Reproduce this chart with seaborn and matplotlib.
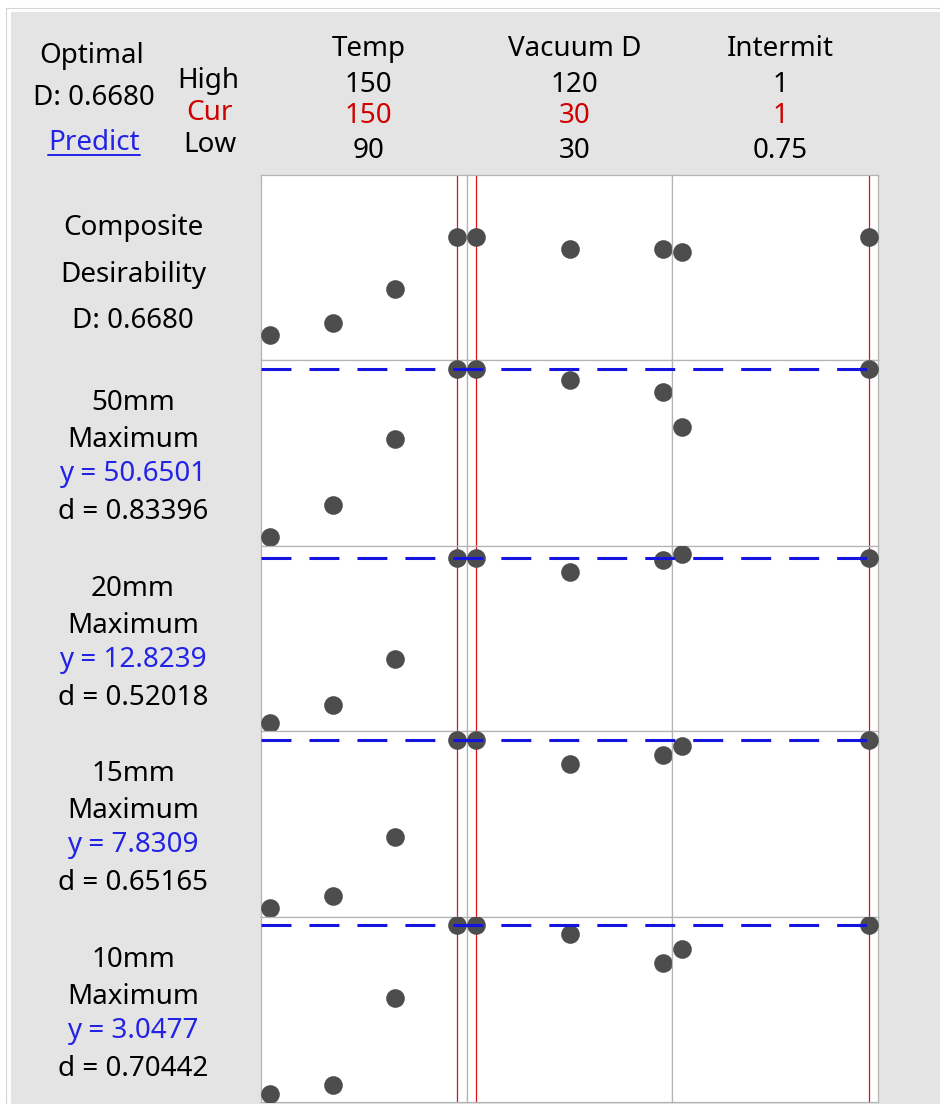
import matplotlib.pyplot as plt
import seaborn as sns
import pandas as pd
from matplotlib.lines import Line2D
from matplotlib.patches import Rectangle

# factor settings
factors = ['Temp', 'Vacuum D', 'Intermit']
high = ['150', '120', '1']
cur = ['150', '30', '1']
low = ['90', '30', '0.75']
cur_values = [150, 30, 1]

temp_levels = [90, 110, 130, 150]
vacuum_levels = [30, 75, 120]
intermit_levels = [0.75, 1]

# composite desirability at each level
comp_temp = [0.139, 0.202, 0.385, 0.668]
comp_vacuum = [0.668, 0.603, 0.603]
comp_intermit = [0.587, 0.668]

# predicted responses at each level
mm50_temp = [44.00, 45.26, 47.90, 50.6501]
mm50_vacuum = [50.6501, 50.20, 49.73]
mm50_intermit = [48.37, 50.6501]

mm20_temp = [9.50, 9.86, 10.79, 12.8239]
mm20_vacuum = [12.8239, 12.54, 12.77]
mm20_intermit = [12.89, 12.8239]

mm15_temp = [5.00, 5.20, 6.19, 7.8309]
mm15_vacuum = [7.8309, 7.42, 7.57]
mm15_intermit = [7.72, 7.8309]

mm10_temp = [1.80, 1.86, 2.51, 3.0477]
mm10_vacuum = [3.0477, 2.98, 2.77]
mm10_intermit = [2.87, 3.0477]

responses = ['50mm', '20mm', '15mm', '10mm']
goals = ['Maximum', 'Maximum', 'Maximum', 'Maximum']
y_pred = [50.6501, 12.8239, 7.8309, 3.0477]
d_vals = ['0.83396', '0.52018', '0.65165', '0.70442']
D_comp = '0.6680'

# armar tabla larga
levels = [temp_levels, vacuum_levels, intermit_levels]
row_series = [
    ('Composite', [comp_temp, comp_vacuum, comp_intermit]),
    ('50mm', [mm50_temp, mm50_vacuum, mm50_intermit]),
    ('20mm', [mm20_temp, mm20_vacuum, mm20_intermit]),
    ('15mm', [mm15_temp, mm15_vacuum, mm15_intermit]),
    ('10mm', [mm10_temp, mm10_vacuum, mm10_intermit]),
]
records = []
for row, series in row_series:
    for f, lv, vals in zip(factors, levels, series):
        for x, v in zip(lv, vals):
            records.append({'row': row, 'factor': f, 'level': x, 'value': v})
df = pd.DataFrame(records)

sns.set_style('white')
plt.rcParams['font.family'] = ['Noto Sans', 'DejaVu Sans']
plt.rcParams['text.color'] = 'black'

DOT = '#4d4d4d'
RED = '#dd1111'
RED_TXT = '#d00000'
BLUE = '#1414e0'
BLUE_TXT = '#2323e6'
FRAME = '#b4b4b4'
BG = '#e4e4e4'
FS = 20

W, H = 940, 1104
fig, axes = plt.subplots(5, 3, figsize=(W / 100, H / 100), dpi=100, sharey='row')
fig.subplots_adjust(left=261 / W, right=878 / W, top=1 - 175 / H, bottom=1 - 1102 / H,
                    wspace=0, hspace=0)
fig.patch.set_facecolor('white')
fig.patches.append(Rectangle((6 / W, 0), 1, 1 - 8 / H, transform=fig.transFigure,
                             facecolor='none', edgecolor='#d4d4d4', lw=0.8, zorder=-2))
fig.patches.append(Rectangle((11 / W, 0), 1, 1 - 12 / H, transform=fig.transFigure,
                             facecolor=BG, edgecolor='none', zorder=-1))


def padded(vals):
    lo, hi = min(vals), max(vals)
    r = hi - lo
    return lo - 0.05 * r, hi + 0.05 * r


for r, (row, series) in enumerate(row_series):
    row_vals = [v for s in series for v in s]
    for c, f in enumerate(factors):
        ax = axes[r, c]
        sub = df[(df['row'] == row) & (df['factor'] == f)]
        ax.axvline(cur_values[c], color=RED, lw=0.9, zorder=2)
        sns.scatterplot(data=sub, x='level', y='value', ax=ax, color=DOT, s=180,
                        linewidth=0, legend=False, zorder=3)
        ax.set_xlim(padded(levels[c]))
        ax.set_ylim((0, 1) if r == 0 else padded(row_vals))
        ax.set(xticks=[], yticks=[], xlabel='', ylabel='')
        ax.set_facecolor('white')
        for sp in ax.spines.values():
            sp.set_color(FRAME)
            sp.set_linewidth(0.9)
    if r > 0:
        # linea objetivo a traves de los tres paneles
        axes[r, 2].axhline(y_pred[r - 1], xmin=-2, xmax=1, clip_on=False, color=BLUE,
                           lw=2.2, dashes=(9.8, 5.9), zorder=4)


def ftext(x, y, s, **kw):
    return fig.text(x / W, 1 - y / H, s, ha='center', va='baseline', fontsize=FS, **kw)


# encabezado
ftext(92, 63, 'Optimal')
ftext(94, 105, 'D: ' + D_comp)
pred = ftext(94, 150, 'Predict', color=BLUE_TXT)
ftext(208, 88, 'High')
ftext(209, 120, 'Cur', color=RED_TXT)
ftext(210, 152, 'Low')
for c in range(3):
    pos = axes[0, c].get_position()
    xc = (pos.x0 + pos.x1) / 2 * W + 5
    ftext(xc, 56, factors[c])
    ftext(xc, 92, high[c])
    ftext(xc, 123, cur[c], color=RED_TXT)
    ftext(xc, 158, low[c])

# etiquetas de filas
ftext(133, 235, 'Composite')
ftext(133, 282, 'Desirability')
ftext(133, 328, 'D: ' + D_comp)
for i in range(4):
    top = (1 - axes[i + 1, 0].get_position().y1) * H
    ftext(133, top + 50, responses[i])
    ftext(133, top + 87, goals[i])
    ftext(133, top + 121, f'y = {y_pred[i]}', color=BLUE_TXT)
    ftext(133, top + 159, f'd = {d_vals[i]}')

# subrayado de Predict
fig.canvas.draw()
bb = pred.get_window_extent()
fig.add_artist(Line2D([bb.x0 / W, bb.x1 / W], [1 - 155 / H, 1 - 155 / H],
                      transform=fig.transFigure, color=BLUE_TXT, lw=1.4))

fig.savefig('out.png', dpi=100, facecolor=fig.get_facecolor())
